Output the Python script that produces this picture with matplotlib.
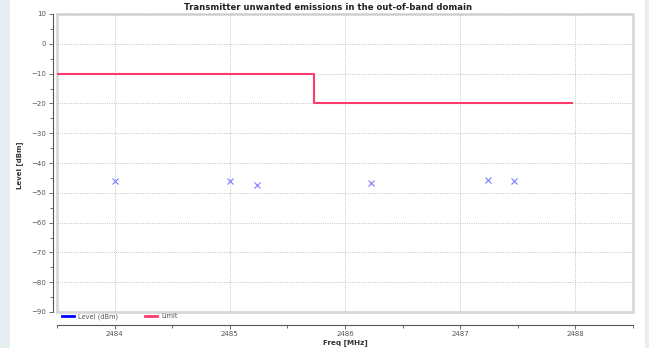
import matplotlib
matplotlib.use("Agg")
import matplotlib.pyplot as plt
from matplotlib.patches import Rectangle
from matplotlib.ticker import MultipleLocator

# Data
freq_points = [2484.0, 2485.0, 2485.235, 2486.23, 2487.24, 2487.47]
level_points = [-46.0, -46.0, -47.4, -46.6, -45.8, -46.2]
limit_freq = [2483.5, 2485.735, 2485.735, 2487.97]
limit_level = [-10, -10, -20, -20]
x_ticks = [2484, 2485, 2486, 2487, 2488]
y_ticks = [10, 0, -10, -20, -30, -40, -50, -60, -70, -80, -90]

W, H = 649, 348
fig = plt.figure(figsize=(W / 100, H / 100), dpi=100)
fig.patch.set_facecolor("#e7eef1")
fig.patches.append(Rectangle((10 / W, 0), 635 / W, 1, transform=fig.transFigure,
                             facecolor="white", edgecolor="none", zorder=-5))

ax = fig.add_axes([57 / W, 1 - 312 / H, (633 - 57) / W, (312 - 14) / H])
ax.set_zorder(1)
ax.set_xlim(2483.5, 2488.5)
ax.set_ylim(-90, 10)

ax.step(limit_freq, limit_level, where="post", color="#ff3b6b", lw=1.5, zorder=3)
ax.plot(freq_points, level_points, linestyle="none", marker="x", markersize=5,
        markeredgewidth=0.8, color="#7a7aff", zorder=4)

ax.set_xticks(x_ticks)
ax.set_yticks(y_ticks)
ax.xaxis.set_minor_locator(MultipleLocator(0.5))
ax.yaxis.set_minor_locator(MultipleLocator(5))
ax.grid(True, which="major", color="#bbbbbb", linestyle=(0, (1.2, 1.5)), lw=0.6)

for s in ["top", "right"]:
    ax.spines[s].set_visible(False)
ax.patch.set_edgecolor("#d8d8d8")
ax.patch.set_linewidth(2)
ax.spines["left"].set_position(("outward", 3))
ax.spines["bottom"].set_position(("outward", 9))
for s in ["left", "bottom"]:
    ax.spines[s].set_color("#555555")
    ax.spines[s].set_linewidth(0.8)

ax.tick_params(which="major", length=3, width=0.6, color="#555555",
               labelsize=5, labelcolor="#555555", pad=2)
ax.tick_params(which="minor", length=2, width=0.6, color="#555555")
ax.tick_params(axis="x", which="major", pad=1.5)

fig.text(328 / W, 1 - 8 / H, "Transmitter unwanted emissions in the out-of-band domain",
         ha="center", va="center", fontsize=6.1, fontweight="bold", color="#222222")
fig.text(20 / W, 1 - 165 / H, "Level [dBm]", rotation=90, ha="center", va="center",
         fontsize=5, fontweight="bold", color="#333333")
fig.text(345 / W, 1 - 342.5 / H, "Freq [MHz]", ha="center", va="center",
         fontsize=5.2, fontweight="bold", color="#333333")

h1, = ax.plot([], [], color="#0000ff", lw=2)
h2, = ax.plot([], [], color="#ff3b6b", lw=2)
fig.legend([h1, h2], ["Level (dBm)", "Limit"], loc="center left",
           bbox_to_anchor=(59 / W, 1 - 316.5 / H), ncol=2, frameon=False,
           fontsize=4.8, handlelength=1.8, columnspacing=4, handletextpad=0.6,
           borderpad=0, labelcolor="#555555")

fig.savefig("out.png", dpi=100, facecolor=fig.get_facecolor())
